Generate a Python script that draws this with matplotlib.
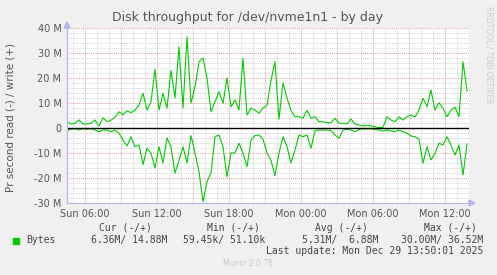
import matplotlib
matplotlib.use("Agg")
import matplotlib.pyplot as plt
import numpy as np

# munin disk throughput, 5-min samples shown here every 20 min (values in MB/s)
start_hour = 4.5          # Sun 04:30
step_hours = 1.0 / 3.0

write_mb = [2.5, 1.6, 1.9, 3.2, 1.6, 1.6, 1.9, 3.2, 0.8, 4.1,
            2.5, 3.2, 4.3, 6.5, 5.2, 6.9, 6.1, 7.2, 9.2, 13.9,
            7.2, 10.5, 23.5, 7.2, 13.9, 7.9, 23.0, 12.0, 32.5, 8.0,
            36.5, 9.9, 16.5, 26.5, 28.0, 20.0, 6.5, 10.5, 14.5, 9.9,
            20.0, 8.5, 11.2, 7.2, 27.9, 5.2, 7.9, 7.2, 5.9, 8.0,
            9.0, 19.0, 26.5, 3.5, 18.0, 12.0, 7.0, 4.5, 4.5, 3.9,
            7.0, 3.9, 4.5, 2.5, 2.5, 2.1, 2.1, 3.9, 1.9, 1.9,
            1.6, 3.6, 1.6, 1.2, 0.8, 1.0, 0.8, 0.5, 0.1, 0.3,
            4.5, 3.2, 2.5, 4.5, 3.2, 4.5, 5.2, 4.5, 7.2, 11.9,
            8.5, 15.2, 7.2, 10.1, 7.9, 4.5, 7.2, 8.3, 4.5, 26.5,
            14.9]

read_mb = [1.1, 0.5, 0.3, 0.8, 0.3, 0.5, 0.3, 0.8, 1.5, 0.8,
           0.8, 1.5, 0.8, 2.1, 4.8, 7.2, 3.5, 7.5, 6.8, 14.6,
           8.1, 10.1, 16.0, 7.5, 14.0, 4.0, 7.5, 18.0, 13.0, 7.5,
           14.0, 3.0, 10.0, 17.5, 29.5, 21.5, 18.0, 3.5, 2.8, 7.5,
           19.5, 10.0, 10.0, 6.1, 10.0, 15.5, 4.8, 3.0, 2.8, 4.5,
           10.0, 13.0, 19.0, 10.0, 3.5, 7.5, 14.0, 8.8, 2.8, 3.5,
           2.8, 8.1, 1.1, 0.8, 0.8, 0.8, 1.1, 2.8, 4.1, 0.8,
           0.5, 0.8, 1.5, 0.5, 0.3, 0.4, 0.3, 0.5, 0.8, 1.2,
           0.8, 1.1, 1.5, 0.8, 1.5, 2.1, 3.2, 3.5, 4.5, 14.1,
           7.5, 12.8, 10.1, 6.1, 6.8, 3.5, 6.8, 10.8, 6.8, 18.8,
           6.4]

tick_hours = [6, 12, 18, 24, 30, 36]
tick_labels = ["Sun 06:00", "Sun 12:00", "Sun 18:00",
               "Mon 00:00", "Mon 06:00", "Mon 12:00"]
y_ticks = [-30, -20, -10, 0, 10, 20, 30, 40]
y_labels = ["-30 M", "-20 M", "-10 M", "0", "10 M", "20 M", "30 M", "40 M"]

legend_name = "Bytes"
legend_cols = ["Cur (-/+)", "Min (-/+)", "Avg (-/+)", "Max (-/+)"]
legend_vals = ["6.36M/ 14.88M", "59.45k/ 51.10k", "5.31M/  6.88M", "30.00M/ 36.52M"]
last_update = "Last update: Mon Dec 29 13:50:01 2025"

W, H = 497, 275
GREEN = "#00cc00"
AXIS = "#b4b4ec"


def fx(x):
    return x / W


def fy(y):
    return 1 - y / H


t = start_hour + np.arange(len(write_mb)) * step_hours
write = np.array(write_mb)
read = -np.array(read_mb)

fig = plt.figure(figsize=(W / 100, H / 100), dpi=100, facecolor="#f0f0f0")
ax = fig.add_axes([fx(67), fy(203), 402 / W, 175 / H])
ax.set_facecolor("white")

x_end = start_hour + 402 / 12.0
ax.set_xlim(start_hour, x_end)
ax.set_ylim(-30, 40)

# grid: grey every hour / 2M, red every 3h / 10M
for h in np.arange(5, 38, 1):
    if h % 3 == 0:
        ax.axvline(h, color="#e6a0a0", lw=0.7, ls=(0, (1, 1)), zorder=1)
    else:
        ax.axvline(h, color="#d4d4d4", lw=0.7, ls=(0, (1, 1)), zorder=1)
for v in np.arange(-28, 41, 2):
    if v % 10 == 0:
        ax.axhline(v, color="#e6a0a0", lw=0.7, ls=(0, (1, 1)), zorder=1)
    else:
        ax.axhline(v, color="#d4d4d4", lw=0.7, ls=(0, (1, 1)), zorder=1)

ax.plot(t, write, color=GREEN, lw=0.8, zorder=3)
ax.plot(t, read, color=GREEN, lw=0.8, zorder=3)
ax.axhline(0, color="black", lw=1.0, zorder=4)

ax.set_xticks(tick_hours)
ax.set_xticklabels(tick_labels)
ax.set_yticks(y_ticks)
ax.set_yticklabels(y_labels)
ax.tick_params(length=0, labelsize=7, colors="#555555", pad=4)
for s in ["top", "right"]:
    ax.spines[s].set_visible(False)
for s in ["left", "bottom"]:
    ax.spines[s].set_color(AXIS)
    ax.spines[s].set_linewidth(0.8)

# axis arrows
fig.lines.append(plt.Line2D([fx(67), fx(67)], [fy(203), fy(24)], color=AXIS, lw=0.8,
                            transform=fig.transFigure))
fig.patches.append(plt.Polygon([[fx(64), fy(28)], [fx(70), fy(28)], [fx(67), fy(22)]],
                               closed=True, color=AXIS, transform=fig.transFigure))
fig.patches.append(plt.Polygon([[fx(469), fy(200)], [fx(469), fy(206)], [fx(475), fy(203)]],
                               closed=True, color=AXIS, transform=fig.transFigure))

fig.text(fx(248), fy(18), "Disk throughput for /dev/nvme1n1 - by day",
         ha="center", va="center", fontsize=9, color="#555555")
fig.text(fx(11), fy(117), "Pr second read (-) / write (+)", rotation=90,
         ha="center", va="center", fontsize=7.5, color="#555555")
fig.text(fx(489), fy(55), "RRDTOOL / TOBI OETIKER", rotation=270,
         ha="center", va="center", fontsize=5.5, color="#cccccc")

mono = "DejaVu Sans Mono"
fig.patches.append(plt.Rectangle((fx(13), fy(244)), 6 / W, 6 / H, color=GREEN,
                                 transform=fig.transFigure))
fig.text(fx(26), fy(240), legend_name, ha="left", va="center",
         fontsize=7, family=mono, color="#444444")
col_centers = [125, 233, 341, 450]
val_rights = [167, 265, 378, 483]
for c, lab in zip(col_centers, legend_cols):
    fig.text(fx(c), fy(228), lab, ha="center", va="center",
             fontsize=7, family=mono, color="#444444")
for r, val in zip(val_rights, legend_vals):
    fig.text(fx(r), fy(240), val, ha="right", va="center",
             fontsize=7, family=mono, color="#444444")
fig.text(fx(483), fy(251), last_update, ha="right", va="center",
         fontsize=7, family=mono, color="#444444")
fig.text(fx(248), fy(264), "Munin 2.0.76", ha="center", va="center",
         fontsize=5.5, color="#c8c8c8")

fig.savefig("out.png", dpi=100, facecolor=fig.get_facecolor())
